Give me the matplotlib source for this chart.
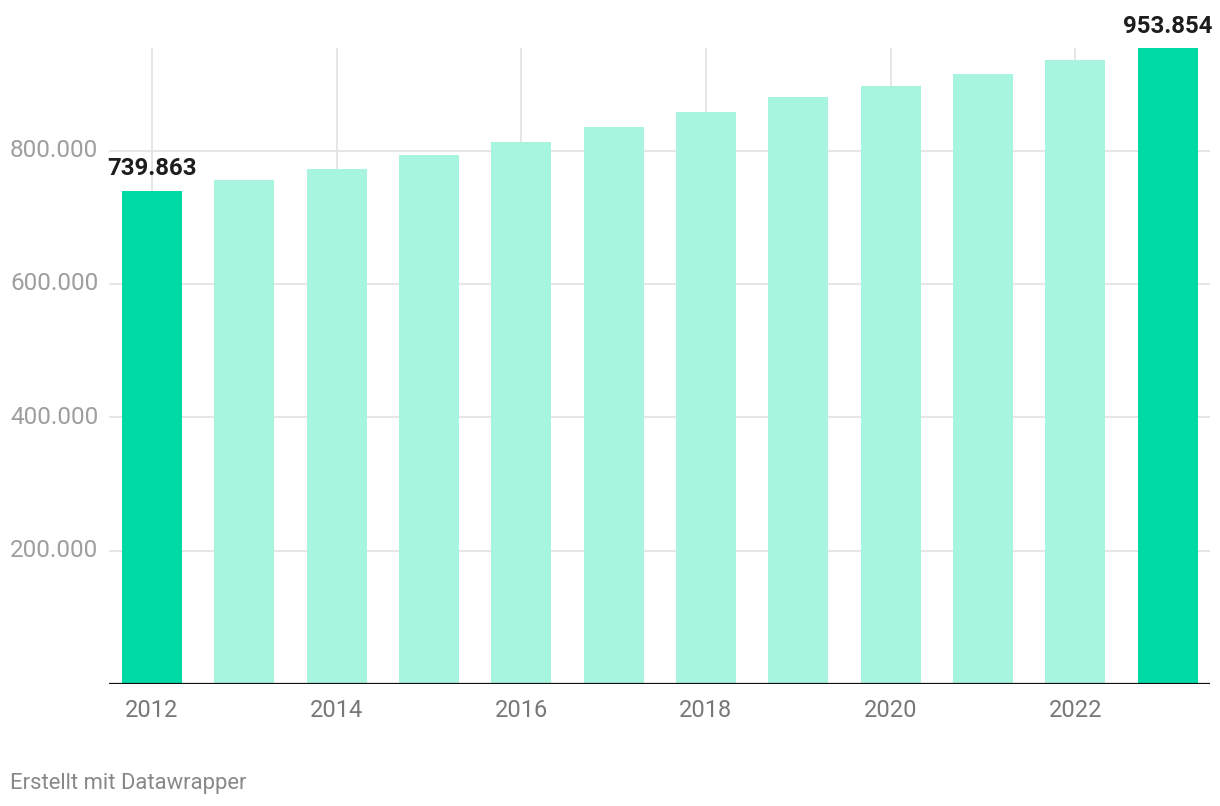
import matplotlib
matplotlib.use("Agg")
import matplotlib.pyplot as plt
import matplotlib.transforms as mtransforms

years = [2012, 2013, 2014, 2015, 2016, 2017, 2018, 2019, 2020, 2021, 2022, 2023]
values = [739863, 756000, 772500, 793500, 813000, 835500, 858000, 880500, 897000, 915000, 936000, 953854]
highlight = [2012, 2023]
value_labels = {2012: "739.863", 2023: "953.854"}
y_ticks = [200000, 400000, 600000, 800000]
y_tick_labels = ["200.000", "400.000", "600.000", "800.000"]
x_ticks = [2012, 2014, 2016, 2018, 2020, 2022]

DARK = "#00dba6"
LIGHT = "#a7f4df"

plt.rcParams['font.family'] = ['Roboto', 'DejaVu Sans']

W, H = 1220, 806
fig = plt.figure(figsize=(W / 100, H / 100), dpi=100)
ax = fig.add_axes([109 / W, 1 - 684 / H, (1210 - 109) / W, (684 - 48) / H])

ax.set_xlim(2011.534, 2023.46)
ax.set_ylim(0, 953854)

# vertical gridlines
for x in x_ticks:
    ax.axvline(x, color="#e4e4e4", lw=1.3, zorder=0)
# horizontal gridlines
for y in y_ticks:
    ax.axhline(y, color="#e4e4e4", lw=1.3, zorder=0)

colors = [DARK if y in highlight else LIGHT for y in years]
ax.bar(years, values, width=0.65, color=colors, zorder=2)

ax.axhline(0, color="#111111", lw=1.6, zorder=3)

for y, v in zip(years, values):
    if y in value_labels:
        ax.annotate(value_labels[y], (y, v), xytext=(0, 7.5), textcoords="offset points",
                    ha="center", va="bottom", fontsize=17.3, fontweight="bold", color="#1d1d1d",
                    zorder=4)

for s in ax.spines.values():
    s.set_visible(False)
ax.set_yticks([])
ax.set_xticks(x_ticks)
ax.set_xticklabels([str(x) for x in x_ticks], fontsize=17, color="#777777")
ax.tick_params(axis="x", length=0, pad=11)

trans = mtransforms.blended_transform_factory(fig.transFigure, ax.transData)
for y, lab in zip(y_ticks, y_tick_labels):
    ax.text(10 / W, y, lab, transform=trans, ha="left", va="center",
            fontsize=17.5, color="#9e9e9e")

fig.text(10 / W, 1 - 784 / H, "Erstellt mit Datawrapper", ha="left", va="center",
         fontsize=15.8, color="#888888")

fig.savefig("out.png", dpi=100, facecolor="white")
